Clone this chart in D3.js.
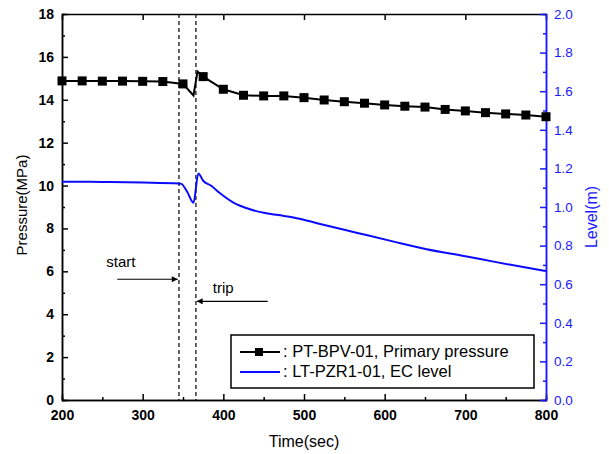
<!DOCTYPE html>
<html>
<head>
  <meta charset="utf-8">
  <script src="https://d3js.org/d3.v7.min.js"></script>
  <style>
    body { margin: 0; background: #fff; }
    text { font-family: "Liberation Sans", Arial, sans-serif; }
    .axis path, .axis line { stroke: #000; stroke-width: 1.5px; }
    .axis text { font-size: 14px; font-weight: bold; fill: #000; }
    .raxis path, .raxis line { stroke: #1a1aff; stroke-width: 1.5px; }
    .raxis text { font-size: 13.5px; fill: #1a1aff; }
    .marker-line { stroke: #333; stroke-width: 1.5px; stroke-dasharray: 4,3; }
  </style>
</head>
<body>
<svg width="609" height="454"></svg>
<script>
  // pressure (MPa), left axis
  const pressureTime = [200, 225, 250, 275, 300, 325, 350, 363, 368, 375, 400, 425, 450, 475,
    500, 525, 550, 575, 600, 625, 650, 675, 700, 725, 750, 775, 800]
  const pressure = [14.88, 14.88, 14.87, 14.87, 14.86, 14.85, 14.74, 14.2, 15.32, 15.08, 14.49, 14.21, 14.18, 14.18,
    14.10, 13.99, 13.91, 13.84, 13.76, 13.70, 13.66, 13.55, 13.48, 13.40, 13.34, 13.29, 13.21]
  // marker times on the pressure curve
  const markerTime = [200, 225, 250, 275, 300, 325, 350, 375, 400, 425, 450, 475, 500, 525,
    550, 575, 600, 625, 650, 675, 700, 725, 750, 775, 800]

  // level (m), right axis
  const levelTime = [200, 250, 300, 345, 348, 355, 363, 369, 375, 385, 396, 412, 433, 450, 468, 487,
    520, 565, 610, 652, 700, 735, 770, 800]
  const level = [1.131, 1.13, 1.127, 1.122, 1.12, 1.08, 1.022, 1.174, 1.136, 1.11, 1.071, 1.024, 0.988, 0.970, 0.958, 0.946,
    0.912, 0.867, 0.822, 0.781, 0.745, 0.717, 0.69, 0.668]

  const events = [345, 366]
  const xTicks = [200, 300, 400, 500, 600, 700, 800]
  const pTicks = [0, 2, 4, 6, 8, 10, 12, 14, 16, 18]
  const lTicks = [0, 0.2, 0.4, 0.6, 0.8, 1.0, 1.2, 1.4, 1.6, 1.8, 2.0]
  const legendLabels = [": PT-BPV-01, Primary pressure", ": LT-PZR1-01, EC level"]

  const mLeft = 62, mRight = 546, mTop = 14, mBottom = 400
  const svg = d3.select("svg")

  const x = d3.scaleLinear().domain([200, 800]).range([mLeft, mRight])
  const yP = d3.scaleLinear().domain([0, 18]).range([mBottom, mTop])
  const yL = d3.scaleLinear().domain([0, 2]).range([mBottom, mTop])

  // dashed event lines
  svg.selectAll(".marker-line")
    .data(events)
    .enter().append("line")
    .attr("class", "marker-line")
    .attr("x1", d => x(d)).attr("x2", d => x(d))
    .attr("y1", mTop).attr("y2", mBottom)

  // minor ticks
  svg.append("g").attr("class", "axis")
    .attr("transform", `translate(0,${mBottom})`)
    .call(d3.axisBottom(x).tickValues(d3.range(250, 800, 100)).tickSize(-3).tickFormat(""))
  svg.append("g").attr("class", "axis")
    .attr("transform", `translate(${mLeft},0)`)
    .call(d3.axisLeft(yP).tickValues(d3.range(1, 18, 2)).tickSize(-3).tickFormat(""))
  svg.append("g").attr("class", "raxis")
    .attr("transform", `translate(${mRight},0)`)
    .call(d3.axisRight(yL).tickValues(d3.range(0.1, 2, 0.2)).tickSize(-3).tickFormat(""))

  // main axes
  svg.append("g").attr("class", "axis")
    .attr("transform", `translate(0,${mBottom})`)
    .call(d3.axisBottom(x).tickValues(xTicks).tickSizeInner(-6).tickSizeOuter(0).tickPadding(10))
  svg.append("g").attr("class", "axis")
    .attr("transform", `translate(0,${mTop})`)
    .call(d3.axisTop(x).tickValues(xTicks).tickSizeInner(-6).tickSizeOuter(0).tickFormat(""))
  svg.append("g").attr("class", "axis")
    .attr("transform", `translate(${mLeft},0)`)
    .call(d3.axisLeft(yP).tickValues(pTicks).tickSizeInner(-6).tickSizeOuter(0).tickPadding(8))
  svg.append("g").attr("class", "raxis")
    .attr("transform", `translate(${mRight},0)`)
    .call(d3.axisRight(yL).tickValues(lTicks).tickSizeInner(-6).tickSizeOuter(0).tickPadding(8)
      .tickFormat(d3.format(".1f")))

  // level line
  svg.append("path")
    .datum(levelTime.map((t, i) => [t, level[i]]))
    .attr("fill", "none").attr("stroke", "#0a0aff").attr("stroke-width", 2)
    .attr("d", d3.line().curve(d3.curveMonotoneX).x(d => x(d[0])).y(d => yL(d[1])))

  // pressure line + markers
  const pData = pressureTime.map((t, i) => [t, pressure[i]])
  svg.append("path")
    .datum(pData)
    .attr("fill", "none").attr("stroke", "#000").attr("stroke-width", 2)
    .attr("d", d3.line().x(d => x(d[0])).y(d => yP(d[1])))
  svg.selectAll(".sq")
    .data(pData.filter(d => markerTime.includes(d[0])))
    .enter().append("rect")
    .attr("class", "sq")
    .attr("x", d => x(d[0]) - 4.5).attr("y", d => yP(d[1]) - 4.5)
    .attr("width", 9).attr("height", 9).attr("fill", "#000")

  // annotations
  svg.append("defs").append("marker")
    .attr("id", "arr").attr("viewBox", "0 0 10 10").attr("refX", 10).attr("refY", 5)
    .attr("markerWidth", 9).attr("markerHeight", 6).attr("markerUnits", "userSpaceOnUse")
    .attr("orient", "auto")
    .append("path").attr("d", "M0,0L10,5L0,10z").attr("fill", "#000")

  svg.append("line")
    .attr("x1", x(268.5)).attr("x2", x(343.5))
    .attr("y1", yP(5.63)).attr("y2", yP(5.63))
    .attr("stroke", "#000").attr("stroke-width", 1.2).attr("marker-end", "url(#arr)")
  svg.append("text").attr("x", x(255)).attr("y", yP(6.2))
    .style("font-size", "15px").text("start")

  svg.append("line")
    .attr("x1", x(455)).attr("x2", x(367))
    .attr("y1", yP(4.6)).attr("y2", yP(4.6))
    .attr("stroke", "#000").attr("stroke-width", 1.2).attr("marker-end", "url(#arr)")
  svg.append("text").attr("x", x(387)).attr("y", yP(4.98))
    .style("font-size", "15px").text("trip")

  // legend
  const lg = svg.append("g").attr("transform", "translate(231,335)")
  lg.append("rect").attr("width", 303).attr("height", 53)
    .attr("fill", "#fff").attr("stroke", "#000").attr("stroke-width", 1.5)
  lg.append("line").attr("x1", 9).attr("x2", 49).attr("y1", 17).attr("y2", 17)
    .attr("stroke", "#000").attr("stroke-width", 2)
  lg.append("rect").attr("x", 24).attr("y", 13).attr("width", 8).attr("height", 8).attr("fill", "#000")
  lg.append("line").attr("x1", 9).attr("x2", 49).attr("y1", 37).attr("y2", 37)
    .attr("stroke", "#0a0aff").attr("stroke-width", 2)
  lg.selectAll(".lt")
    .data(legendLabels)
    .enter().append("text")
    .attr("x", 52).attr("y", (d, i) => 22 + i * 20)
    .style("font-size", "16.5px").text(d => d)

  // axis titles
  svg.append("text").attr("x", 304).attr("y", 447).attr("text-anchor", "middle")
    .style("font-size", "16px").text("Time(sec)")
  svg.append("text").attr("transform", "translate(27,205) rotate(-90)").attr("text-anchor", "middle")
    .style("font-size", "15px").text("Pressure(MPa)")
  svg.append("text").attr("transform", "translate(597,217) rotate(-90)").attr("text-anchor", "middle")
    .style("font-size", "16px").style("fill", "#1a1aff").text("Level(m)")
</script>
</body>
</html>
